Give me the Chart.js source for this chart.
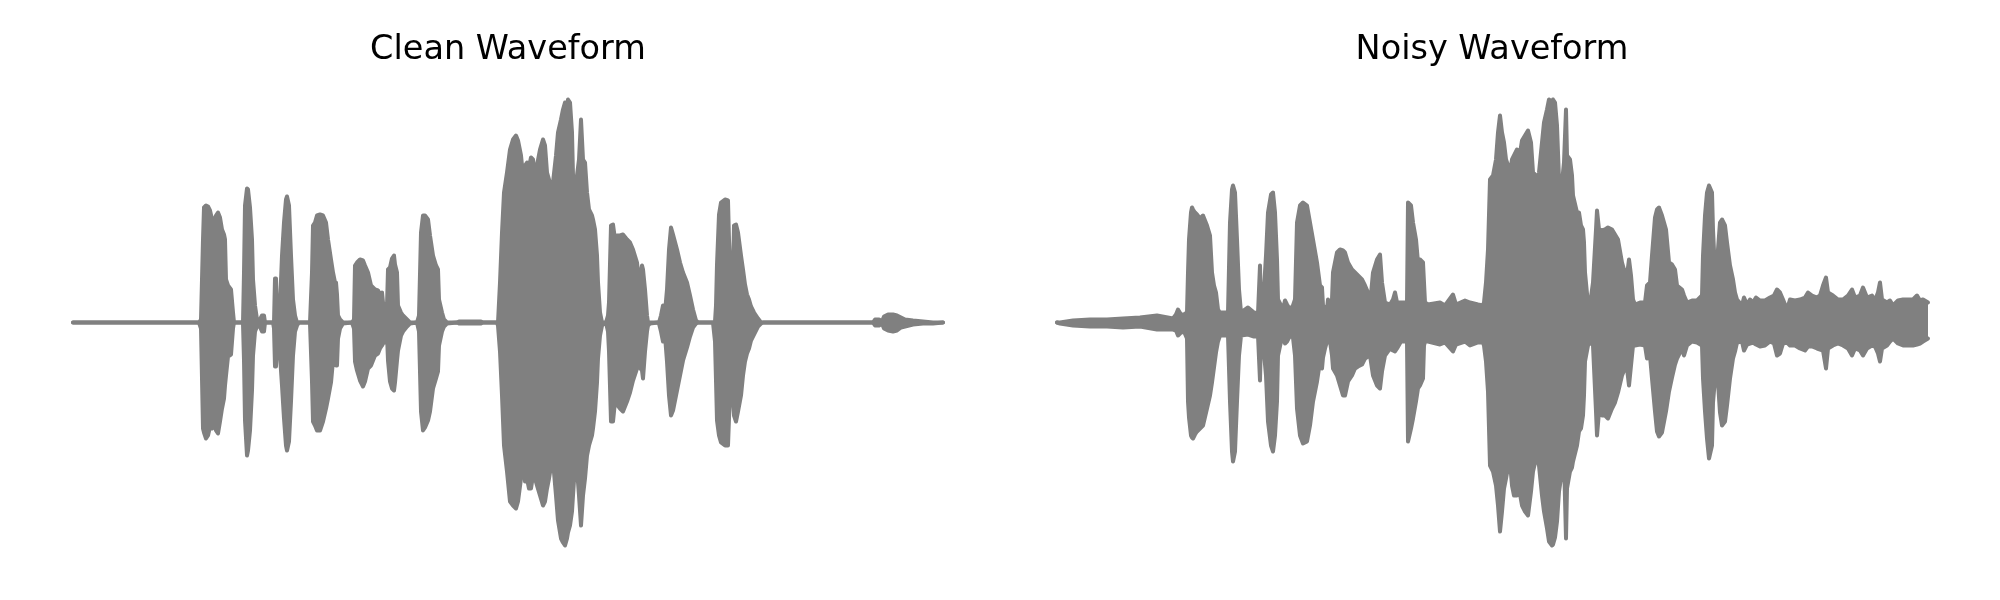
<!DOCTYPE html>
<html>
<head>
<meta charset="utf-8">
<title>Clean vs Noisy Waveform</title>
<script src="https://cdn.jsdelivr.net/npm/chart.js@4.4.1/dist/chart.umd.min.js"></script>
<style>
  body { margin: 0; background: #ffffff; }
  #wrap { position: relative; width: 2000px; height: 600px; }
  .panel { position: absolute; top: 0; width: 1000px; height: 600px; }
</style>
</head>
<body>
<div id="wrap">
  <div class="panel" style="left:0"><canvas id="cleanChart" width="1000" height="600"></canvas></div>
  <div class="panel" style="left:1000px"><canvas id="noisyChart" width="1000" height="600"></canvas></div>
</div>
<script>
// Envelope of each waveform: frame index, upper peak, lower peak
const cleanFrames = [
  0, 126, 128, 130, 131, 133, 135, 137, 139, 141, 143, 145, 147, 149, 151, 152, 153, 155, 158, 160, 161,
  169, 170, 171, 172, 174, 175, 177, 179, 180, 182, 184, 186, 189, 191, 192,
  200, 201, 202, 203, 204, 207, 209, 211, 213, 214, 216, 218, 220, 222, 224, 226,
  236, 237, 239, 240, 242, 244, 247, 250, 253, 255, 258, 260, 262, 263, 264, 265, 267, 270,
  279, 281, 282, 284, 287, 290, 292, 295, 298, 302, 305, 307, 309, 310, 312, 314, 315, 317, 319, 321, 322, 324, 325, 328, 330, 334, 337,
  344, 346, 348, 350, 352, 355, 357, 360, 363, 365, 366, 369, 371, 374, 384, 386, 408, 410,
  424, 425, 427, 429, 431, 434, 437, 440, 443, 445, 448, 450, 451, 452, 454, 456, 458, 460, 462, 464,
  467, 470, 472, 474, 476, 479, 480, 483, 485, 488, 490, 492, 494, 495, 497, 499, 500, 502, 504, 506,
  508, 510, 512, 514, 516, 519, 520, 522, 524, 525, 527, 529, 531,
  533, 535, 536, 538, 540, 542, 544, 547, 550, 554, 557, 560, 564, 566, 569, 570, 572, 574, 575, 577,
  585, 586, 588, 590, 592, 594, 596, 598, 600, 604, 607, 610, 614, 617, 620, 623, 625,
  640, 642, 643, 644, 646, 648, 652, 655, 656, 658, 660, 661, 663, 665, 668, 670, 672, 674, 676, 678, 681, 685, 688, 690,
  800, 802, 806, 809, 811, 815, 820, 824, 828, 832, 840, 850, 860, 870
];
const cleanUpper = [
  0, 0, 3, 83, 115, 117, 116, 112, 103, 102, 107, 110, 105, 93, 88, 83, 43, 37, 33, 10, 0,
  0, 0, 50, 117, 134, 133, 115, 83, 43, 17, 3, 1, 7, 7, 0,
  0, 0, 44, 44, 10, 17, 67, 100, 123, 126, 117, 67, 23, 7, 0, 0,
  0, 0, 50, 97, 100, 107, 108, 107, 100, 83, 63, 50, 40, 40, 28, 7, 3, 0,
  0, 3, 57, 60, 63, 62, 57, 50, 37, 33, 32, 28, 30, 20, 17, 17, 53, 55, 64, 67, 58, 50, 17, 10, 7, 3, 0,
  0, 7, 90, 107, 107, 103, 87, 67, 57, 53, 23, 10, 3, 0, 0, 1, 1, 0,
  0, 0, 40, 90, 130, 150, 173, 183, 187, 182, 167, 147, 130, 157, 160, 155, 165, 163, 147, 157,
  173, 183, 177, 150, 143, 127, 140, 167, 190, 203, 213, 220, 215, 223, 220, 190, 147, 133, 147, 163,
  203, 163, 160, 130, 113, 107, 103, 93, 67, 40, 10, 0, 0,
  0, 7, 20, 97, 98, 83, 87, 87, 88, 83, 80, 73, 60, 40, 57, 53, 33, 7, 0, 0,
  0, 0, 7, 17, 10, 33, 73, 95, 88, 73, 60, 50, 40, 27, 13, 2, 0,
  0, 1, 17, 58, 108, 120, 123, 122, 83, 33, 50, 97, 98, 90, 67, 53, 38, 28, 23, 16, 10, 4, 0, 0,
  0, 3, 3, 1, 6, 8, 8, 7, 5, 3, 2, 1, 0, 0
];
const cleanLower = [
  0, 0, -6, -106, -110, -116, -113, -104, -106, -101, -108, -111, -99, -86, -76, -63, -53, -34, -32, -6, 0,
  0, -1, -38, -98, -133, -128, -108, -68, -33, -9, -4, -2, -9, -9, 0,
  0, -6, -44, -44, -19, -33, -63, -96, -123, -128, -119, -79, -33, -9, -3, 0,
  0, -1, -59, -99, -103, -108, -108, -99, -86, -76, -60, -38, -33, -43, -43, -16, -6, -1,
  0, -6, -39, -48, -58, -64, -59, -46, -43, -33, -31, -26, -23, -21, -19, -13, -38, -59, -66, -68, -60, -38, -28, -13, -9, -4, -1,
  0, -9, -89, -108, -105, -98, -89, -66, -56, -49, -23, -9, -4, -1, 0, -1, -1, 0,
  0, -3, -29, -73, -123, -149, -179, -183, -186, -179, -156, -136, -136, -159, -156, -166, -166, -153, -156, -163,
  -173, -183, -179, -166, -156, -138, -138, -173, -198, -216, -220, -223, -216, -210, -203, -189, -173, -143, -146, -173,
  -203, -173, -156, -133, -123, -113, -106, -89, -60, -36, -13, -3, -1,
  0, -9, -29, -99, -99, -79, -82, -86, -89, -79, -70, -58, -46, -44, -48, -56, -29, -9, -3, -1,
  0, -1, -9, -19, -13, -39, -73, -93, -88, -68, -53, -38, -25, -14, -5, -1, 0,
  0, -19, -58, -98, -113, -120, -123, -123, -96, -33, -79, -93, -99, -89, -73, -53, -39, -31, -26, -18, -12, -4, -1, 0,
  0, -3, -3, -1, -6, -8, -9, -8, -5, -4, -2, -1, -1, 0
];

const noisyFrames = [
  0, 3, 16, 33, 50, 66, 83, 100, 116, 119, 121, 124, 127,
  130, 131, 132, 134, 135, 136, 138, 140, 143, 146, 150, 153, 155, 157, 159, 161, 163, 167,
  171, 173, 175, 176, 178, 180, 182, 184, 191, 197, 201, 203, 204,
  206, 209, 211, 214, 216, 218, 220, 221, 224, 226, 228, 230, 233, 236,
  238, 240, 243, 246, 250, 253, 256, 260, 263, 265, 266, 268, 270, 271, 273,
  275, 276, 280, 283, 286, 288, 291, 295, 298, 301, 305, 308, 311, 313, 316, 320, 323, 325, 328, 333, 336, 338, 340, 344, 348,
  350, 351, 354, 356, 359, 361, 363, 366, 367, 368, 371, 383, 388, 396, 399, 408, 413, 421, 426,
  427, 429, 431, 433, 436, 439, 441, 443, 445, 447, 449, 451, 453, 455, 457, 460, 462, 465, 468, 471,
  474, 476, 479, 480, 482, 485, 487, 490, 492, 495, 496, 498, 500, 502, 505, 507, 509, 510, 513, 515,
  516, 520, 522, 524, 526, 527, 528, 531, 533,
  536, 539, 540, 542, 545, 548, 551, 555, 558, 561, 565, 567, 570, 572, 574, 576, 578, 583, 588, 590,
  593, 595, 598, 600, 602, 605, 609, 612, 615, 618, 620, 625, 627, 630, 635, 640,
  645, 646, 648, 650, 652, 655, 656, 658, 659, 661, 663, 665, 668, 670, 673, 676, 678, 680,
  685, 687, 690, 693, 696, 699, 703, 708, 713, 717, 720, 723, 726, 730, 733, 738, 743, 748, 751, 755,
  760, 763, 766, 769, 771, 776, 781, 786, 791, 795, 798, 803, 806, 810, 815, 818, 821, 823, 825, 830,
  833, 836, 841, 846, 851, 856, 860, 863, 866, 871
];
const noisyUpper = [
  0, 0, 2, 3, 3, 4, 5, 7, 4, 8, 13, 8, 8,
  10, 50, 83, 110, 115, 113, 110, 108, 104, 107, 97, 87, 50, 37, 30, 13, 10, 10,
  10, 100, 133, 137, 130, 83, 33, 10, 15, 10, 9, 57, 10,
  17, 67, 110, 128, 130, 110, 63, 23, 17, 13, 22, 18, 13, 17,
  23, 100, 117, 120, 117, 100, 83, 60, 37, 35, 17, 15, 13, 23, 17,
  23, 50, 70, 73, 72, 70, 60, 53, 50, 47, 43, 37, 30, 17, 50, 63, 68, 40, 20, 18, 23, 30, 20, 20, 20,
  20, 120, 117, 100, 83, 60, 63, 60, 40, 20, 18, 20, 17, 28, 18, 22, 20, 18, 17,
  20, 40, 73, 143, 147, 163, 190, 207, 190, 180, 163, 157, 150, 163, 167, 173, 163, 182, 187, 192,
  180, 150, 147, 137, 150, 180, 200, 213, 223, 220, 223, 220, 197, 143, 140, 160, 213, 167, 163, 147,
  127, 110, 110, 97, 93, 80, 50, 18, 18,
  40, 93, 112, 93, 92, 93, 95, 93, 88, 83, 60, 53, 47, 63, 47, 23, 18, 20, 20, 37,
  40, 67, 105, 113, 115, 107, 93, 60, 58, 53, 37, 33, 27, 20, 22, 22,
  27, 67, 107, 130, 137, 130, 93, 50, 33, 73, 100, 103, 97, 80, 57, 43, 30, 23,
  17, 25, 18, 23, 20, 25, 22, 22, 25, 27, 33, 30, 23, 13, 23, 22, 23, 25, 30, 27,
  25, 27, 37, 45, 30, 27, 23, 23, 27, 33, 25, 27, 35, 25, 27, 22, 30, 40, 23, 20,
  22, 17, 22, 23, 23, 23, 27, 22, 23, 20
];
const noisyLower = [
  0, -1, -3, -4, -4, -5, -4, -7, -7, -8, -13, -10, -9,
  -16, -79, -95, -113, -115, -116, -112, -109, -106, -103, -86, -73, -60, -45, -30, -19, -13, -13,
  -13, -79, -129, -139, -129, -79, -33, -13, -12, -14, -13, -58, -15,
  -19, -53, -99, -123, -129, -113, -79, -33, -19, -16, -21, -19, -13, -15,
  -33, -86, -113, -121, -119, -103, -79, -59, -39, -46, -35, -26, -19, -19, -19,
  -33, -46, -53, -63, -73, -73, -59, -53, -46, -44, -42, -36, -34, -33, -53, -63, -66, -49, -33, -26, -28, -29, -26, -19, -19,
  -19, -119, -106, -96, -79, -66, -63, -56, -23, -19, -19, -22, -20, -29, -22, -19, -23, -20, -20,
  -23, -39, -69, -143, -149, -163, -183, -209, -189, -166, -156, -145, -139, -163, -173, -173, -166, -183, -189, -193,
  -169, -149, -136, -133, -143, -173, -189, -206, -219, -223, -222, -215, -199, -169, -149, -136, -216, -166, -149, -145,
  -139, -123, -109, -106, -93, -73, -39, -23, -19,
  -23, -89, -113, -89, -93, -93, -96, -86, -80, -70, -53, -48, -46, -63, -43, -23, -23, -22, -23, -36,
  -33, -56, -89, -109, -114, -110, -89, -69, -55, -42, -36, -26, -33, -23, -19, -20,
  -23, -56, -89, -116, -136, -123, -80, -56, -35, -60, -90, -103, -99, -83, -56, -36, -29, -20,
  -19, -28, -22, -21, -20, -22, -24, -23, -19, -21, -33, -31, -21, -20, -23, -23, -26, -28, -24, -24,
  -26, -27, -28, -46, -26, -23, -21, -23, -26, -33, -26, -28, -33, -26, -23, -24, -31, -39, -26, -23,
  -19, -16, -21, -23, -23, -23, -22, -21, -19, -16
];

const WAVE_COLOR = '#808080';

function toPoints(frames, values) {
    if (frames.length !== values.length) {
        console.warn('length mismatch', frames.length, values.length);
    }
    return frames.map(function(f, i) {
        return { x: f, y: values[i] };
    });
}

function drawWaveform(canvasId, title, frames, upper, lower, padLeft, padRight) {
    const ctx = document.getElementById(canvasId);
    if (!ctx) return;

    const lineStyle = {
        borderColor: WAVE_COLOR,
        backgroundColor: WAVE_COLOR,
        borderWidth: 4,
        borderJoinStyle: 'round',
        borderCapStyle: 'round',
        pointRadius: 0,
        tension: 0
    };

    new Chart(ctx, {
        type: 'line',
        data: {
            datasets: [
                Object.assign({ label: 'upper', data: toPoints(frames, upper), fill: '+1' }, lineStyle),
                Object.assign({ label: 'lower', data: toPoints(frames, lower), fill: false }, lineStyle)
            ]
        },
        options: {
            responsive: false,
            animation: false,
            devicePixelRatio: 1,
            layout: {
                padding: { left: padLeft, right: padRight, top: 0, bottom: 28 }
            },
            plugins: {
                legend: { display: false },
                tooltip: { enabled: false },
                title: {
                    display: true,
                    text: title,
                    color: '#000000',
                    font: { family: 'DejaVu Sans', size: 33.5, weight: 'normal' },
                    padding: { top: 30, bottom: 2.8 }
                }
            },
            scales: {
                x: { type: 'linear', display: false, min: -43.5, max: 913.5 },
                y: { type: 'linear', display: false, min: -249.5, max: 249.5 }
            }
        }
    });
}

drawWaveform('cleanChart', 'Clean Waveform', cleanFrames, cleanUpper, cleanLower, 29.5, 13.5);
drawWaveform('noisyChart', 'Noisy Waveform', noisyFrames, noisyUpper, noisyLower, 13.5, 29.5);
</script>
</body>
</html>
